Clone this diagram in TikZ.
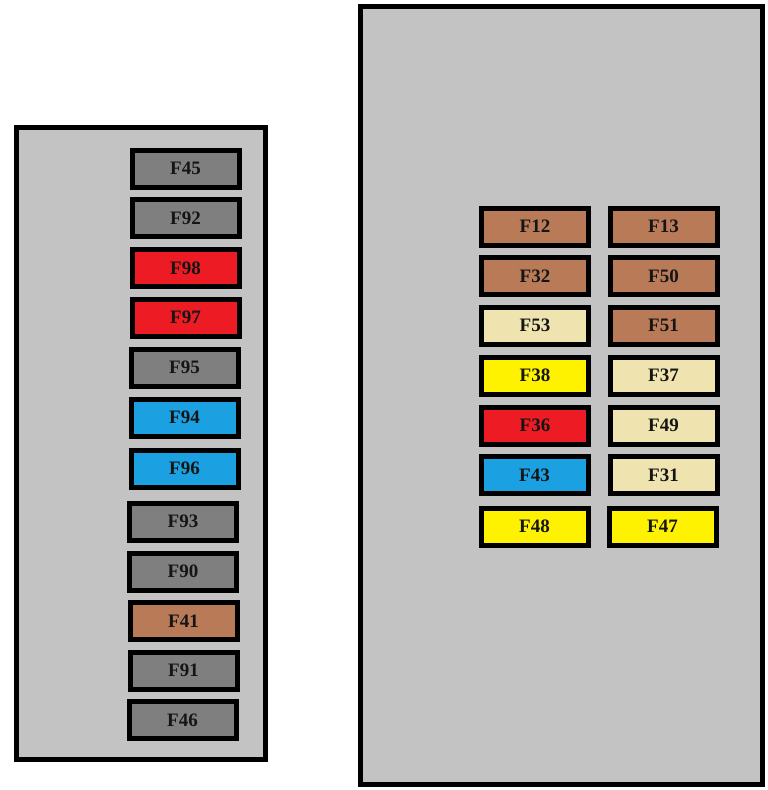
\documentclass[tikz,border=0pt]{standalone}
\usepackage{fontspec}
\setmainfont{Liberation Serif}
\definecolor{panelgray}{HTML}{C3C3C3}
\definecolor{fgray}{HTML}{7F7F7F}
\definecolor{fred}{HTML}{ED1C24}
\definecolor{fblue}{HTML}{1BA1E2}
\definecolor{fbrown}{HTML}{B97A57}
\definecolor{fcream}{HTML}{EFE4B0}
\definecolor{fyellow}{HTML}{FFF200}
\definecolor{ftext}{HTML}{151515}
\tikzset{
  panel/.style={draw=black, fill=panelgray, line width=5pt, inner sep=0pt, rectangle},
  fuse/.style={draw=black, line width=5pt, inner sep=0pt, rectangle,
    minimum width=107pt, minimum height=37pt, text=ftext,
    font=\bfseries\fontsize{19}{19}\selectfont},
  gr/.style={fuse, fill=fgray},
  rd/.style={fuse, fill=fred},
  bl/.style={fuse, fill=fblue},
  br/.style={fuse, fill=fbrown},
  cr/.style={fuse, fill=fcream},
  ye/.style={fuse, fill=fyellow}
}
\begin{document}
\begin{tikzpicture}[x=1pt,y=-1pt]
\useasboundingbox (0,0) rectangle (768,790);
\fill[white] (0,0) rectangle (768,790);
% panels
\node[panel, minimum width=249pt, minimum height=632pt] (leftpanel) at (141,443.5) {};
\node[panel, minimum width=402pt, minimum height=778pt] (rightpanel) at (561.5,395.5) {};
% left column
\node[gr] (F45) at (185.5,168.5) {F45};
\node[gr] (F92) at (185.5,218) {F92};
\node[rd] (F98) at (185.5,268) {F98};
\node[rd] (F97) at (185.5,317.5) {F97};
\node[gr] (F95) at (184.5,367.5) {F95};
\node[bl] (F94) at (184.5,417.5) {F94};
\node[bl] (F96) at (184.5,468.5) {F96};
\node[gr] (F93) at (183,521.5) {F93};
\node[gr] (F90) at (183,571.5) {F90};
\node[br] (F41) at (183.5,621) {F41};
\node[gr] (F91) at (183.5,670.5) {F91};
\node[gr] (F46) at (182.5,720) {F46};
% right block
\node[br] (F12) at (535,226.5) {F12};
\node[br] (F13) at (663.5,226.5) {F13};
\node[br] (F32) at (535,276) {F32};
\node[br] (F50) at (663.5,276) {F50};
\node[cr] (F53) at (535,325.5) {F53};
\node[br] (F51) at (663.5,325.5) {F51};
\node[ye] (F38) at (535,375.5) {F38};
\node[cr] (F37) at (663.5,375.5) {F37};
\node[rd] (F36) at (535,425.5) {F36};
\node[cr] (F49) at (663.5,425.5) {F49};
\node[bl] (F43) at (534.5,475) {F43};
\node[cr] (F31) at (663.5,475) {F31};
\node[ye] (F48) at (534.5,526.5) {F48};
\node[ye] (F47) at (662.5,526.5) {F47};
\end{tikzpicture}
\end{document}
